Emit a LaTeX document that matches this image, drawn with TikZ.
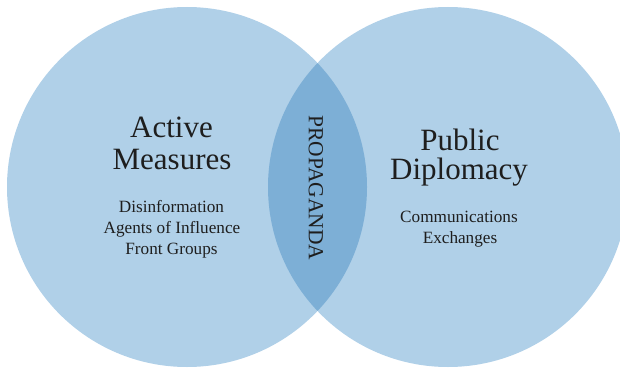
\documentclass[tikz,border=0pt]{standalone}
\usepackage{fontspec}
\setmainfont{Liberation Serif}
\definecolor{circfill}{HTML}{B0D0E8}
\definecolor{lensfill}{HTML}{7DAFD6}
\definecolor{txt}{HTML}{1E1E1E}
\tikzset{
  title/.style={anchor=base, inner sep=0pt, text=txt, font=\fontsize{31}{34}\selectfont},
  item/.style={anchor=base, inner sep=0pt, text=txt, font=\fontsize{17.2}{20}\selectfont},
  lenslabel/.style={anchor=center, inner sep=0pt, text=txt, rotate=-90, font=\fontsize{21.5}{24}\selectfont},
}
\begin{document}
\begin{tikzpicture}[x=1pt,y=-1pt]
\useasboundingbox (0,0) rectangle (620,369);
\clip (0,0) rectangle (620,369);
\fill[circfill] (187,187) circle[radius=180];
\fill[circfill] (448,187) circle[radius=180];
\begin{scope}
  \clip (187,187) circle[radius=180];
  \fill[lensfill] (448,187) circle[radius=180];
\end{scope}
\node[title] (act) at (171.5,137) {Active};
\node[title] (mea) at (172,169) {Measures};
\node[item] (dis) at (171.5,212) {Disinformation};
\node[item] (age) at (172,233) {Agents of Influence};
\node[item] (fro) at (171.5,254) {Front Groups};
\node[title] (pub) at (460,150) {Public};
\node[title] (dip) at (459,179) {Diplomacy};
\node[item] (com) at (459,222) {Communications};
\node[item] (exc) at (460,243) {Exchanges};
\node[lenslabel] (pro) at (316,188) {PROPAGANDA};
\end{tikzpicture}
\end{document}
